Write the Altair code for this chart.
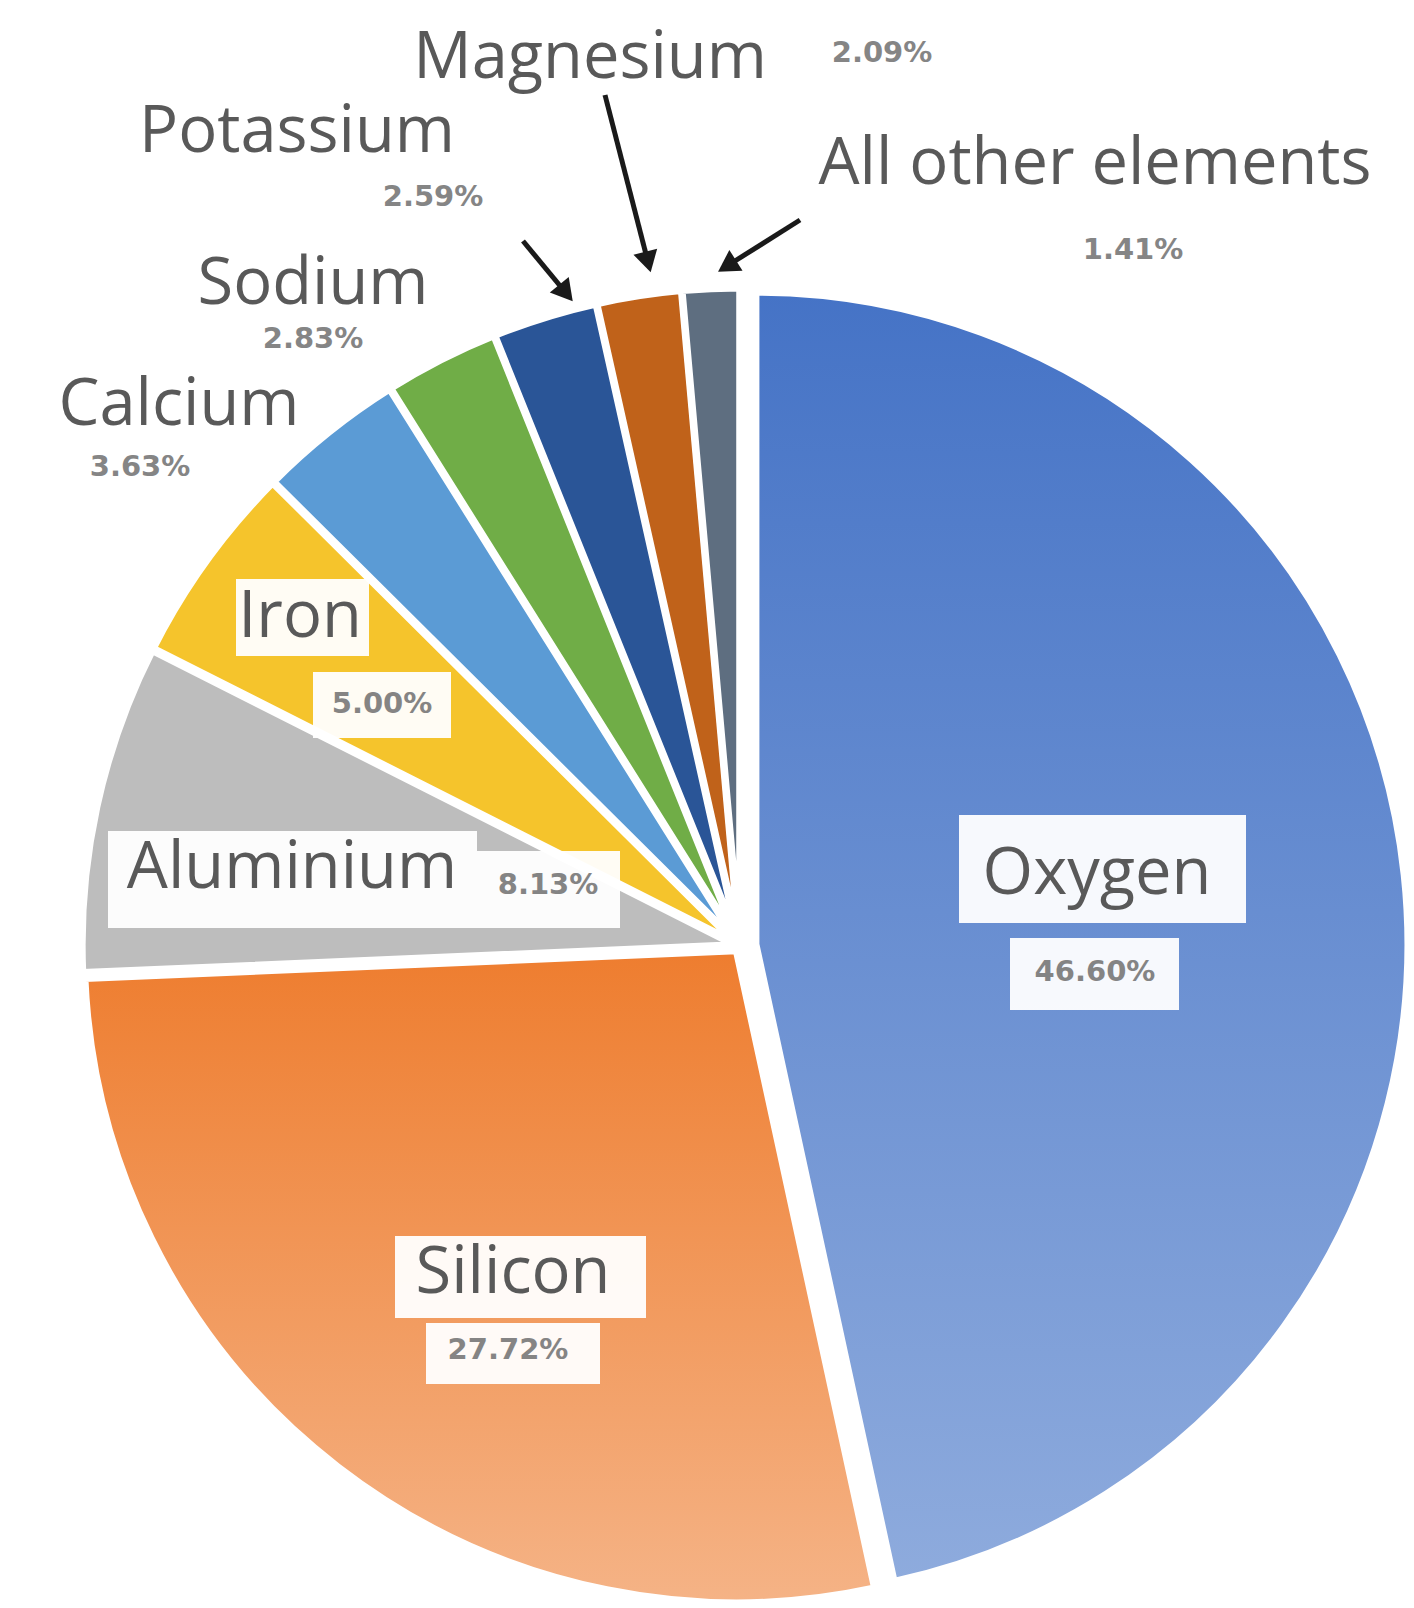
import altair as alt
import pandas as pd

# ---- data ----
elements = ["Oxygen", "Silicon", "Aluminium", "Iron", "Calcium",
            "Sodium", "Potassium", "Magnesium", "All other elements"]
percent = [46.60, 27.72, 8.13, 5.00, 3.63, 2.83, 2.59, 2.09, 1.41]
pct_text = ["46.60%", "27.72%", "8.13%", "5.00%", "3.63%",
            "2.83%", "2.59%", "2.09%", "1.41%"]

# ---- style ----
colors = ["#5581CC", "#F08A45", "#BDBDBD", "#F5C42C", "#5B9BD5",
          "#70AD47", "#2A5597", "#C0621A", "#5E6E80"]
explode = [16, 6, 6, 6, 6, 6, 6, 6, 6]
OFF = 8
CX, CY, R = 740 - OFF, 946 - OFF, 652
FONT = "Open Sans"
TXT = "#595959"

df = pd.DataFrame({"element": elements, "value": percent,
                   "order": list(range(len(elements))), "explode": explode})

base = (
    alt.Chart(df)
    .transform_window(cum="sum(value)", frame=[None, 0],
                      sort=[alt.SortField("order")])
    .transform_joinaggregate(total="sum(value)")
    .transform_calculate(
        t0="2*PI*(datum.cum-datum.value)/datum.total",
        t1="2*PI*datum.cum/datum.total",
    )
    .transform_calculate(mid="(datum.t0+datum.t1)/2")
    .transform_calculate(
        px=f"{CX}+datum.explode*sin(datum.mid)",
        py=f"{CY}-datum.explode*cos(datum.mid)",
    )
)

enc = dict(
    theta=alt.Theta("t0:Q", scale=None),
    theta2="t1:Q",
    x=alt.X("px:Q", scale=None),
    y=alt.Y("py:Q", scale=None),
)

arcs = base.mark_arc(radius=R, stroke="white", strokeWidth=7).encode(
    color=alt.Color("element:N", scale=alt.Scale(domain=elements, range=colors),
                    legend=None),
    **enc,
)


def grad(c0, c1):
    return alt.Gradient(
        gradient="linear",
        stops=[alt.GradientStop(color=c0, offset=0),
               alt.GradientStop(color=c1, offset=1)],
        x1=0, x2=0, y1=0, y2=1,
    )


oxy = base.transform_filter("datum.element == 'Oxygen'").mark_arc(
    radius=R, stroke="white", strokeWidth=7, fill=grad("#4573C6", "#8EABDD")
).encode(**enc)
sil = base.transform_filter("datum.element == 'Silicon'").mark_arc(
    radius=R, stroke="white", strokeWidth=7, fill=grad("#EE7D2F", "#F5B386")
).encode(**enc)

# ---- label layout (full-page px) ----
boxes = pd.DataFrame({
    "x": [959, 1010, 395, 426, 108, 477, 236, 313],
    "x2": [1246, 1179, 646, 600, 477, 620, 369, 451],
    "y": [815, 938, 1236, 1323, 831, 851, 579, 672],
    "y2": [923, 1010, 1318, 1384, 928, 928, 656, 738],
})
for c in boxes.columns:
    boxes[c] = boxes[c] - OFF

box_layer = alt.Chart(boxes).mark_rect(fill="white", opacity=0.95).encode(
    x=alt.X("x:Q", scale=None), x2="x2:Q",
    y=alt.Y("y:Q", scale=None), y2="y2:Q",
)

name_pos = [(1097, 874), (513, 1273), (292, 868), (300, 617), (179, 405),
            (313, 284), (297, 132), (590, 58), (1095, 164)]
pct_pos = [(1095, 972), (508, 1350), (548, 885), (382, 704), (140, 467),
           (313, 339), (433, 197), (882, 53), (1133, 250)]

names = pd.DataFrame({"t": elements,
                      "x": [p[0] - OFF for p in name_pos],
                      "y": [p[1] - OFF for p in name_pos]})
pcts = pd.DataFrame({"t": pct_text,
                     "x": [p[0] - OFF for p in pct_pos],
                     "y": [p[1] - OFF for p in pct_pos]})

name_layer = alt.Chart(names).mark_text(
    font=FONT, fontSize=65, color=TXT, align="center", baseline="middle"
).encode(x=alt.X("x:Q", scale=None), y=alt.Y("y:Q", scale=None), text="t:N")

pct_layer = alt.Chart(pcts).mark_text(
    font="DejaVu Sans", fontSize=29, fontWeight="bold", color="#707070",
    align="center", baseline="middle", opacity=0.85
).encode(x=alt.X("x:Q", scale=None), y=alt.Y("y:Q", scale=None), text="t:N")

# ---- arrows ----
arrows = pd.DataFrame({
    "x": [523, 605, 800], "y": [241, 95, 220],
    "x2": [566, 648, 727], "y2": [293, 262, 266],
    "ang": [140.6, 165.4, 237.5],
})
for c in ["x", "y", "x2", "y2"]:
    arrows[c] = arrows[c] - OFF

rule_layer = alt.Chart(arrows).mark_rule(color="#1a1a1a", strokeWidth=5).encode(
    x=alt.X("x:Q", scale=None), y=alt.Y("y:Q", scale=None),
    x2="x2:Q", y2="y2:Q",
)
head_layer = alt.Chart(arrows).mark_point(
    shape="triangle-up", filled=True, color="#1a1a1a", size=600, opacity=1
).encode(
    x=alt.X("x2:Q", scale=None), y=alt.Y("y2:Q", scale=None),
    angle=alt.Angle("ang:Q", scale=None),
)

chart = alt.layer(
    arcs, oxy, sil, box_layer, name_layer, pct_layer, rule_layer, head_layer
).properties(
    width=1398, height=1592, padding=0, autosize="none"
).configure_view(stroke=None)

chart.save("out.html", embed_options={"renderer": "svg", "actions": False})
